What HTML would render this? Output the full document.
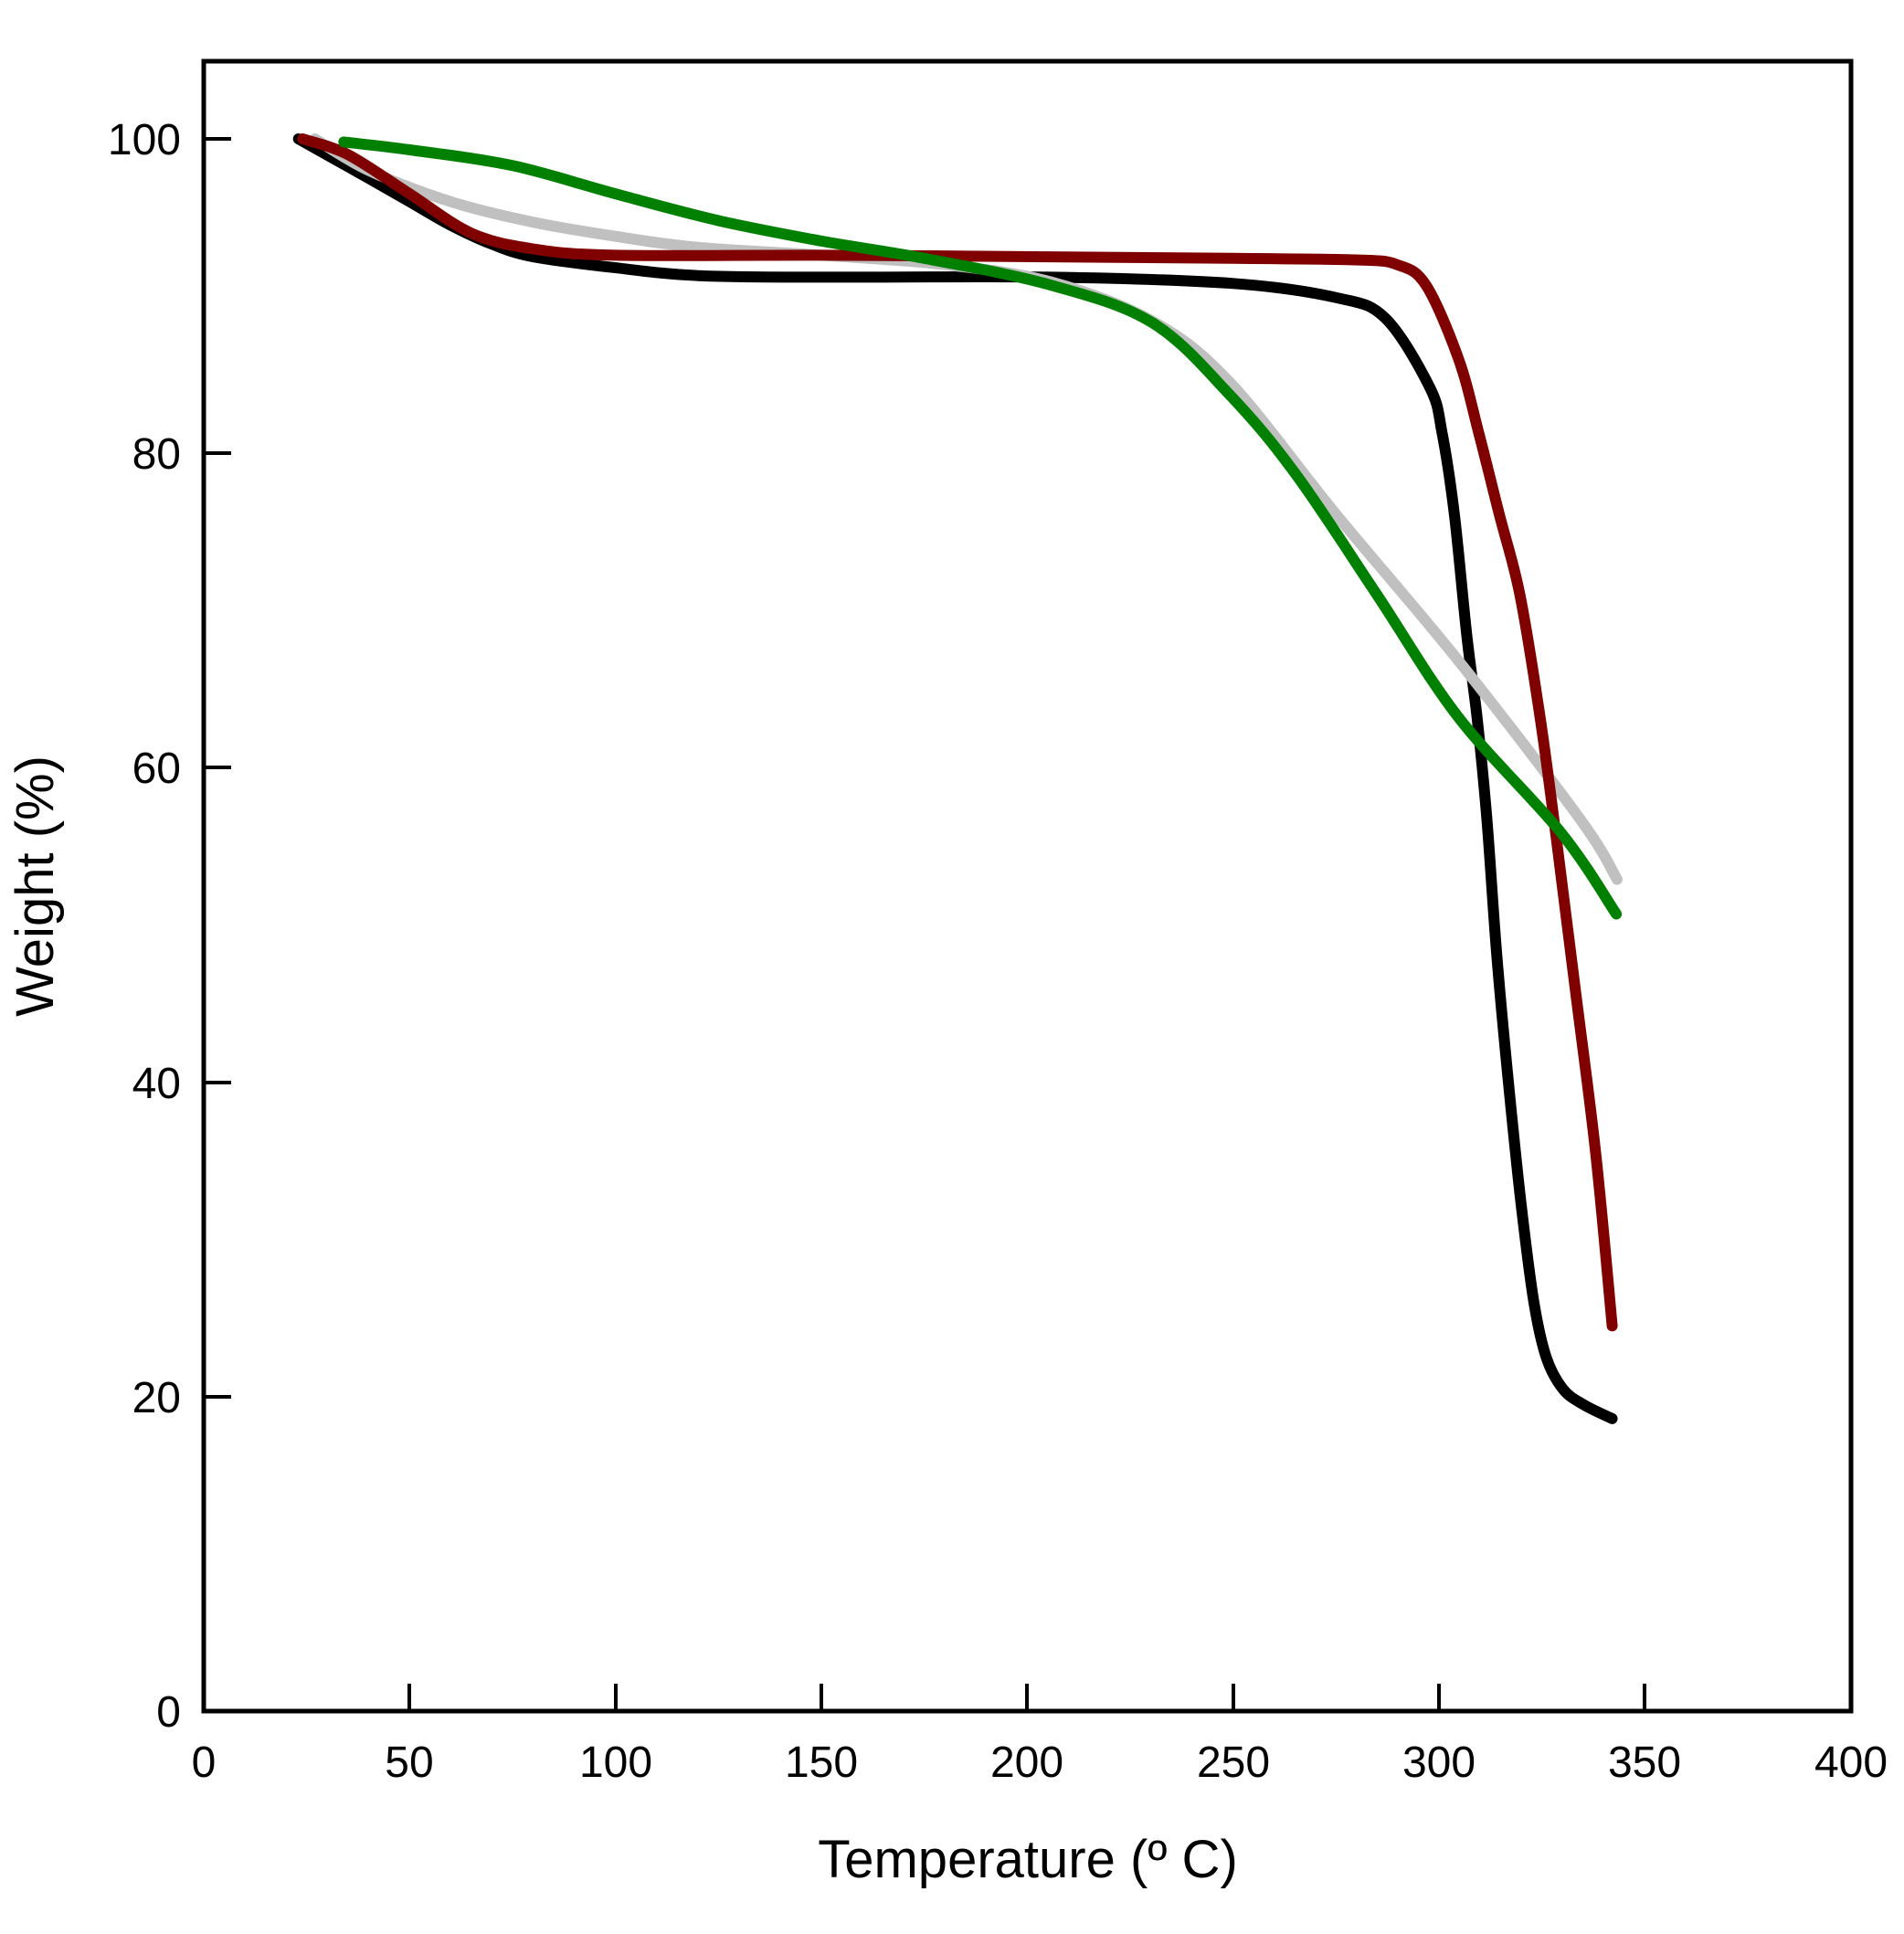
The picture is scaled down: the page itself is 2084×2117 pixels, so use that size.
<!DOCTYPE html>
<html><head><meta charset="utf-8"><style>
html,body{margin:0;padding:0;background:#fff;}
svg{display:block;}
text{font-family:"Liberation Sans",Arial,sans-serif;fill:#000;}
</style></head><body>
<svg id="s" width="2084" height="2117" viewBox="0 0 2084 2117" xmlns="http://www.w3.org/2000/svg">
<rect x="0" y="0" width="2084" height="2117" fill="#fff"/>
<g id="curves" fill="none" stroke-width="12" stroke-linejoin="round" stroke-linecap="round"></g>
<rect x="223" y="67" width="1803" height="1806" fill="none" stroke="#000" stroke-width="5"/>
<g stroke="#000" stroke-width="4">
<line x1="448" y1="1873" x2="448" y2="1843"/><line x1="674" y1="1873" x2="674" y2="1843"/>
<line x1="899" y1="1873" x2="899" y2="1843"/><line x1="1124" y1="1873" x2="1124" y2="1843"/>
<line x1="1350" y1="1873" x2="1350" y2="1843"/><line x1="1575" y1="1873" x2="1575" y2="1843"/>
<line x1="1800" y1="1873" x2="1800" y2="1843"/>
<line x1="223" y1="1529" x2="253" y2="1529"/><line x1="223" y1="1185" x2="253" y2="1185"/>
<line x1="223" y1="840" x2="253" y2="840"/><line x1="223" y1="496" x2="253" y2="496"/>
<line x1="223" y1="152" x2="253" y2="152"/>
</g>
<g font-size="48" text-anchor="middle">
<text x="223" y="1945">0</text><text x="448" y="1945">50</text><text x="674" y="1945">100</text>
<text x="899" y="1945">150</text><text x="1124" y="1945">200</text><text x="1350" y="1945">250</text>
<text x="1575" y="1945">300</text><text x="1800" y="1945">350</text><text x="2026" y="1945">400</text>
</g>
<g font-size="48" text-anchor="end">
<text x="198" y="1890">0</text><text x="198" y="1546">20</text><text x="198" y="1202">40</text>
<text x="198" y="857">60</text><text x="198" y="513">80</text><text x="198" y="169">100</text>
</g>
<text x="1125" y="2055" font-size="58" text-anchor="middle">Temperature (º C)</text>
<text transform="translate(58,970) rotate(-90)" font-size="58" text-anchor="middle">Weight (%)</text>
</svg>
<script>
function X(t){return 223+t*4.5075;}
function Y(v){return 1873-v*17.21;}
function path(d){
 var p=d.map(function(a){return [X(a[0]),Y(a[1])];});
 var s="M"+p[0][0].toFixed(1)+" "+p[0][1].toFixed(1);
 for(var i=0;i<p.length-1;i++){
  var p0=p[i-1]||p[i],p1=p[i],p2=p[i+1],p3=p[i+2]||p2;
  var c1=[p1[0]+(p2[0]-p0[0])/6,p1[1]+(p2[1]-p0[1])/6];
  var c2=[p2[0]-(p3[0]-p1[0])/6,p2[1]-(p3[1]-p1[1])/6];
  s+=" C"+c1[0].toFixed(1)+" "+c1[1].toFixed(1)+" "+c2[0].toFixed(1)+" "+c2[1].toFixed(1)+" "+p2[0].toFixed(1)+" "+p2[1].toFixed(1);
 }
 return s;
}
var series=[
 ["#000",[[23,100],[40,97.5],[50,96],[60,94.5],[70,93.3],[80,92.5],[100,91.8],[120,91.3],[150,91.2],[205.7,91.2],[250,90.8],[275,89.9],[286.9,88.6],[297.7,84.2],[300.7,81.3],[303.7,76.1],[306.7,68.4],[309.2,63.2],[311.6,56.7],[314,48],[316.8,40],[320,32],[323,26],[326,22.5],[330,20.5],[335,19.5],[342,18.6]]],
 ["#c0c0c0",[[27,100],[40,98],[60,96],[80,94.7],[100,93.8],[120,93.1],[150,92.6],[180,92],[205.7,90.9],[230.4,88.4],[249.2,84.5],[275,76.1],[304.7,66.8],[334.3,56.7],[343.2,52.9]]],
 ["#800000",[[24,100],[35,99],[50,96.5],[65,94],[80,93],[100,92.6],[150,92.6],[205,92.5],[250,92.4],[280,92.3],[289.8,92],[296.8,90.7],[304.7,86],[309.6,81.3],[314.6,76.1],[319.6,71],[324.5,63.2],[328.5,55.4],[333,46],[338,35.5],[342,24.5]]],
 ["#008000",[[34,99.8],[50,99.3],[75,98.3],[100,96.5],[125,94.8],[150,93.5],[175,92.4],[205.7,90.7],[230.4,88.3],[249.2,83.7],[265.1,78.7],[284.9,71],[304.7,63.2],[329.5,55.9],[343,50.7]]]
];
var g=document.getElementById("curves");
series.forEach(function(s){
 var e=document.createElementNS("http://www.w3.org/2000/svg","path");
 e.setAttribute("d",path(s[1]));e.setAttribute("stroke",s[0]);g.appendChild(e);
});
</script>
</body></html>
